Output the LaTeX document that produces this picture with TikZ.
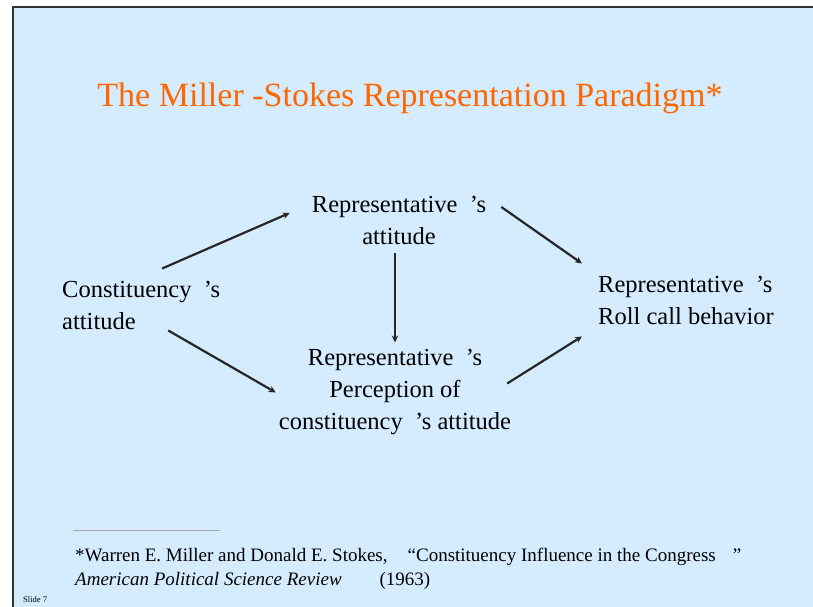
\documentclass[tikz,border=0pt]{standalone}
\usepackage{fontspec}
\setmainfont{Liberation Serif}
\usetikzlibrary{arrows.meta, positioning, calc}

\definecolor{slidebg}{RGB}{212,236,254}
\definecolor{titleorange}{RGB}{255,102,0}

\begin{document}
\begin{tikzpicture}[x=1pt, y=1pt, >={Stealth[length=7pt, width=6.5pt]}]

        % --- Styles ---
        \tikzstyle{body} = [inner sep=0pt, font=\fontsize{24.5}{32}\selectfont]
        \tikzstyle{arrow} = [line width=2.2pt, ->, black!85]

        % --- Slide ---
        \useasboundingbox (0,0) rectangle (813,607);
        \fill[white] (0,0) rectangle (813,607);
        \fill[slidebg] (13,0) rectangle (813,600);
        \draw[line width=2pt, black!80] (13,0) -- (13,600) -- (813,600);

        % --- Title ---
        \node (title) [anchor=base, text=titleorange, font=\fontsize{34}{40}\selectfont] at (410,500) {The Miller -Stokes Representation Paradigm*};

        % --- Nodes ---

        % 1. Constituency
        \node (const) [body, anchor=base west, align=left] at (62,277) {Constituency\enspace’s\\attitude};

        % 2. Representative's attitude
        \node (repatt) [body, anchor=base, align=center] at (399,362) {Representative\enspace’s\\attitude};

        % 3. Perception
        \node (percep) [body, anchor=base, align=center] at (395,177) {Representative\enspace’s\\Perception of\\constituency\enspace’s attitude};

        % 4. Roll call
        \node (roll) [body, anchor=base west, align=left] at (598,282) {Representative\enspace’s\\Roll call behavior};

        % --- Arrows ---
        \draw[arrow] ($(const.north)+(21,13)$) -- ($(repatt.west)+(-22,8)$);
        \draw[arrow] ($(const.south)+(27,0)$) -- ($(percep.west)+(-3,0)$);
        \draw[arrow] ($(repatt.south)+(-4,-8)$) -- ($(percep.north)+(0,7)$);
        \draw[arrow] ($(repatt.east)+(15,14)$) -- ($(roll.north west)+(-16,13)$);
        \draw[arrow] ($(percep.east)+(-4,9)$) -- ($(roll.south west)+(-16,-11)$);

        % --- Footnote ---
        \node (cite) [anchor=base west, align=left, inner sep=0pt, font=\fontsize{19}{24}\selectfont] at (75,21) {*Warren E. Miller and Donald E. Stokes,\hspace{20pt}“Constituency Influence in the Congress\hspace{17pt}”\\\textit{American Political Science Review}\hspace{38pt}(1963)};
        \draw[gray!70, line width=0.8pt] ($(cite.north west)+(-2,18)$) -- ++(147,0);
        \node (slide) [anchor=base west, inner sep=0pt, font=\fontsize{8.5}{10}\selectfont] at (23,5) {Slide 7};
\end{tikzpicture}
\end{document}
